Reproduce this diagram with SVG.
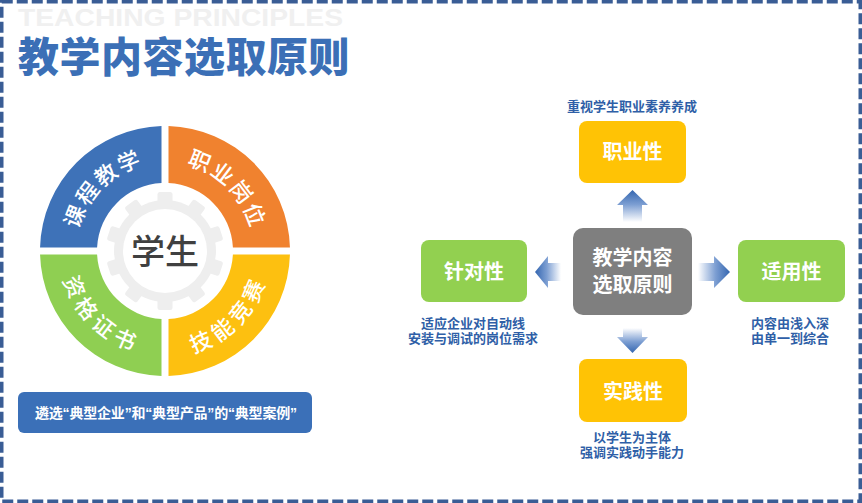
<svg xmlns="http://www.w3.org/2000/svg" width="862" height="503" viewBox="0 0 862 503">
<style>
.cjk{font-family:"Noto Sans CJK SC","Liberation Sans",sans-serif}
.qt{font-family:"Noto Sans CJK SC",sans-serif;font-size:22px;fill:#fff;font-weight:500}
.box{font-family:"Noto Sans CJK SC",sans-serif;font-size:20px;fill:#fff;font-weight:700;text-anchor:middle}
.lbl{font-family:"Noto Sans CJK SC",sans-serif;font-size:13px;fill:#2f5fa7;font-weight:700;text-anchor:middle}
</style>
<defs>
<path id="arcTL" d="M 76.5 251 A 88.5 88.5 0 0 1 165 162.5"/>
<path id="arcTR" d="M 165 162.5 A 88.5 88.5 0 0 1 253.5 251"/>
<path id="arcBL" d="M 59.5 251 A 105.5 105.5 0 0 0 165 356.5"/>
<path id="arcBR" d="M 165 356.5 A 105.5 105.5 0 0 0 270.5 251"/>
<rect id="tooth" x="-7.5" y="-59" width="15" height="15" rx="2.5"/>
<linearGradient id="gUp" x1="0" y1="0" x2="0" y2="1"><stop offset="0" stop-color="#3466b0"/><stop offset="0.45" stop-color="#7c9ed2"/><stop offset="1" stop-color="#ffffff"/></linearGradient>
<linearGradient id="gDown" x1="0" y1="0" x2="0" y2="1"><stop offset="0" stop-color="#ffffff"/><stop offset="0.55" stop-color="#7c9ed2"/><stop offset="1" stop-color="#3466b0"/></linearGradient>
<linearGradient id="gLeft" x1="0" y1="0" x2="1" y2="0"><stop offset="0" stop-color="#3466b0"/><stop offset="0.45" stop-color="#7c9ed2"/><stop offset="1" stop-color="#ffffff"/></linearGradient>
<linearGradient id="gRight" x1="0" y1="0" x2="1" y2="0"><stop offset="0" stop-color="#ffffff"/><stop offset="0.55" stop-color="#7c9ed2"/><stop offset="1" stop-color="#3466b0"/></linearGradient>
</defs>
<rect width="862" height="503" fill="#ffffff"/>
<rect x="1.75" y="1.75" width="858.5" height="499.5" fill="none" stroke="#3a5d95" stroke-width="3.5" stroke-dasharray="11 4"/>

<g id="header">
<text x="18" y="26" font-family="Liberation Sans, sans-serif" font-weight="700" font-size="23" fill="#f0f0f0" textLength="325" lengthAdjust="spacingAndGlyphs">TEACHING PRINCIPLES</text>
<text x="18" y="72" class="cjk" font-weight="900" font-size="41" fill="#3b6fb6" letter-spacing="0.5">教学内容选取原则</text>
</g>

<g id="ring">
<g id="q-course"><path d="M 40.05 247.5 A 125 125 0 0 1 161.5 126.05 L 161.5 183.09 A 68 68 0 0 0 97.09 247.5 Z" fill="#3e72b8"/><text class="qt" letter-spacing="2"><textPath href="#arcTL" startOffset="50%" text-anchor="middle">课程教学</textPath></text></g>
<g id="q-job"><path d="M 168.5 126.05 A 125 125 0 0 1 289.95 247.5 L 232.91 247.5 A 68 68 0 0 0 168.5 183.09 Z" fill="#f0822f"/><text class="qt" letter-spacing="2"><textPath href="#arcTR" startOffset="50%" text-anchor="middle">职业岗位</textPath></text></g>
<g id="q-skill"><path d="M 289.95 254.5 A 125 125 0 0 1 168.5 375.95 L 168.5 318.91 A 68 68 0 0 0 232.91 254.5 Z" fill="#fdc010"/><text class="qt" letter-spacing="5"><textPath href="#arcBR" startOffset="50%" text-anchor="middle">技能竞赛</textPath></text></g>
<g id="q-cert"><path d="M 161.5 375.95 A 125 125 0 0 1 40.05 254.5 L 97.09 254.5 A 68 68 0 0 0 161.5 318.91 Z" fill="#8fcf52"/><text class="qt" letter-spacing="5"><textPath href="#arcBL" startOffset="50%" text-anchor="middle">资格证书</textPath></text></g>
<g id="student">
<g transform="translate(165 251)" fill="#eeeeee">
<circle r="51"/>
<use href="#tooth"/><use href="#tooth" transform="rotate(36)"/><use href="#tooth" transform="rotate(72)"/><use href="#tooth" transform="rotate(108)"/><use href="#tooth" transform="rotate(144)"/><use href="#tooth" transform="rotate(180)"/><use href="#tooth" transform="rotate(216)"/><use href="#tooth" transform="rotate(252)"/><use href="#tooth" transform="rotate(288)"/><use href="#tooth" transform="rotate(324)"/>
<circle r="42" fill="#ffffff"/>
</g>
<text x="165" y="264" class="cjk" font-size="34" font-weight="500" fill="#404040" text-anchor="middle">学生</text>
</g>
</g>

<g id="banner">
<rect x="18" y="392" width="294" height="41" rx="6" fill="#3b70b8"/>
<text x="166" y="417.5" font-family="Liberation Sans, Noto Sans CJK SC, sans-serif" font-weight="700" font-size="14" fill="#ffffff" text-anchor="middle" textLength="262" lengthAdjust="spacing">遴选“典型企业”和“典型产品”的“典型案例”</text>
</g>

<g id="connectors">
<polygon points="632.5,190 648,205 642,205 642,222 623,222 623,205 617,205" fill="url(#gUp)"/>
<polygon points="623,328 642,328 642,337 648,337 632.5,353 617,337 623,337" fill="url(#gDown)"/>
<polygon points="535,272 548,256 548,263 561,263 561,281 548,281 548,288" fill="url(#gLeft)"/>
<polygon points="698,263 714,263 714,256 730,272 714,288 714,281 698,281" fill="url(#gRight)"/>
</g>

<g id="node-center">
<rect x="573" y="228" width="119" height="87" rx="10" fill="#7f7f7f"/>
<text class="box"><tspan x="632.5" y="265">教学内容</tspan><tspan x="632.5" y="292">选取原则</tspan></text>
</g>

<g id="node-prof">
<text x="632" y="111" class="lbl">重视学生职业素养养成</text>
<rect x="579" y="121" width="107" height="62" rx="8" fill="#ffc305"/>
<text x="632.5" y="159" class="box">职业性</text>
</g>

<g id="node-target">
<rect x="421" y="240" width="106" height="62" rx="8" fill="#92d050"/>
<text x="474" y="279" class="box">针对性</text>
<text class="lbl"><tspan x="473" y="328">适应企业对自动线</tspan><tspan x="473" y="343">安装与调试的岗位需求</tspan></text>
</g>

<g id="node-apply">
<rect x="738" y="240" width="107" height="62" rx="8" fill="#92d050"/>
<text x="791.5" y="279" class="box">适用性</text>
<text class="lbl"><tspan x="790" y="328">内容由浅入深</tspan><tspan x="790" y="343">由单一到综合</tspan></text>
</g>

<g id="node-practice">
<rect x="579" y="359" width="108" height="63" rx="8" fill="#ffc305"/>
<text x="633" y="399" class="box">实践性</text>
<text class="lbl"><tspan x="632" y="442">以学生为主体</tspan><tspan x="632" y="457">强调实践动手能力</tspan></text>
</g>
</svg>
